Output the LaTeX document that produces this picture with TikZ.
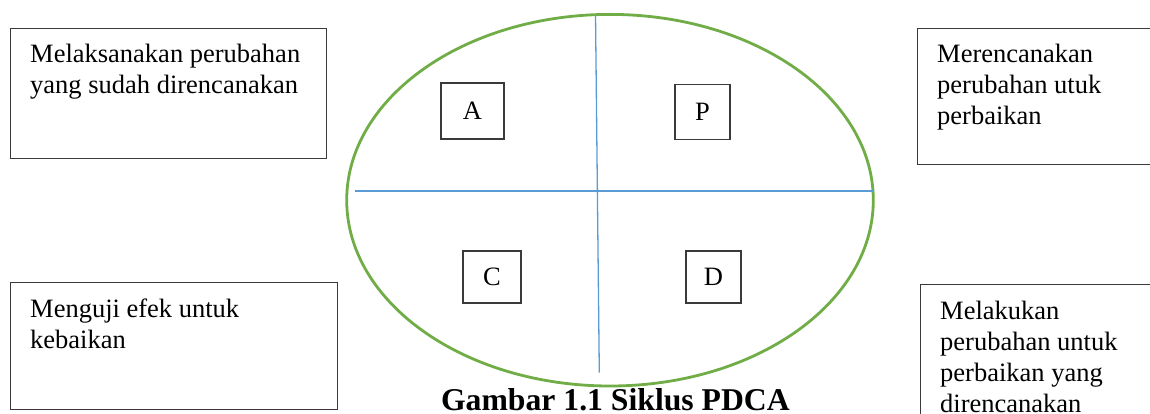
\documentclass[tikz,border=0pt]{standalone}
\usepackage{fontspec}
\setmainfont{Liberation Serif}
\usetikzlibrary{shapes.geometric}
\definecolor{cyclegreen}{HTML}{70AD47}
\definecolor{axisblue}{HTML}{5B9BD5}
\definecolor{frame}{HTML}{3A3A3A}
\tikzset{
  notebox/.style={draw=frame, line width=1.2pt, rectangle, anchor=north west, inner sep=0pt},
  % base anchor of a multi-line node sits on its last baseline
  notetext/.style={anchor=base west, inner sep=0pt, align=left,
    font=\fontsize{26.5}{31}\selectfont},
  letterbox/.style={draw=frame, line width=1.2pt, rectangle, inner sep=0pt,
    font=\fontsize{26.5}{31}\selectfont},
  quadrant/.style={draw=axisblue, line width=1.3pt},
}
\begin{document}
\begin{tikzpicture}[x=1pt, y=-1pt]
\useasboundingbox (0,0) rectangle (1150,414);

% the PDCA cycle
\node[ellipse, draw=cyclegreen, line width=2.8pt, inner sep=0pt,
      minimum width=526.6pt, minimum height=371.6pt] (cycle) at (610,200.2) {};

% quadrant dividers
\coordinate (vtop) at (595.5,14.5);
\coordinate (vbot) at (599.3,372.7);
\coordinate (hleft) at (355,191);
\coordinate (hright) at (873,191);
\draw[quadrant] (vtop) -- (vbot);
\draw[quadrant] (hleft) -- (hright);

% phase letters
\node[letterbox, minimum width=63pt, minimum height=56pt] (A) at (472.5,111) {A};
\node[letterbox, minimum width=55pt, minimum height=55pt] (P) at (702.5,112) {P};
\node[letterbox, minimum width=58pt, minimum height=52pt] (C) at (492,277) {C};
\node[letterbox, minimum width=55pt, minimum height=52pt] (D) at (713.5,277) {D};

% description boxes
\node[notebox, minimum width=316pt, minimum height=130pt] (actbox) at (10,28) {};
\node[notetext] (acttext) at (30,94) {Melaksanakan perubahan\\yang sudah direncanakan};

\node[notebox, minimum width=240pt, minimum height=136pt] (planbox) at (917,28) {};
\node[notetext] (plantext) at (937,125) {Merencanakan\\perubahan utuk\\perbaikan};

\node[notebox, minimum width=326.5pt, minimum height=127pt] (checkbox) at (10,282) {};
\node[notetext] (checktext) at (30,348.5) {Menguji efek untuk\\kebaikan};

\node[notebox, minimum width=240pt, minimum height=140pt] (dobox) at (920,284) {};
\node[notetext] (dotext) at (940,412.5) {Melakukan\\perubahan untuk\\perbaikan yang\\direncanakan};

% caption
\node[anchor=base, inner sep=0pt, font=\fontsize{31.7}{36}\selectfont\bfseries] (caption)
  at (615.4,410) {Gambar 1.1 Siklus PDCA};
\end{tikzpicture}
\end{document}
